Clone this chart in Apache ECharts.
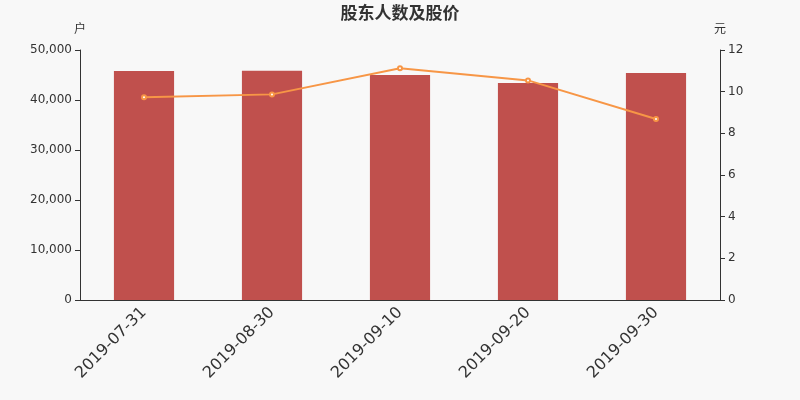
<!DOCTYPE html>
<html lang="zh">
<head>
    <meta charset="UTF-8">
    <title>股东人数及股价</title>
    <script src="https://cdn.jsdelivr.net/npm/echarts@6/dist/echarts.min.js"></script>
    <style>
        html, body { margin: 0; padding: 0; background: #f8f8f8; }
        #main { width: 800px; height: 400px; }
    </style>
</head>
<body>
<div id="main"></div>
<script>
    // 日期
    var dates = ['2019-07-31', '2019-08-30', '2019-09-10', '2019-09-20', '2019-09-30'];
    // 股东人数(户)
    var holders = [45800, 45850, 45000, 43400, 45400];
    // 股价(元)
    var prices = [9.73, 9.87, 11.12, 10.54, 8.69];

    var chart = echarts.init(document.getElementById('main'));
    var font = '"DejaVu Sans", "Noto Sans CJK SC", sans-serif';
    var option = {
        backgroundColor: '#f8f8f8',
        textStyle: { fontFamily: font },
        title: {
            text: '股东人数及股价',
            left: 'center',
            top: 1,
            textStyle: { fontSize: 17, fontWeight: 'bold', color: '#333', fontFamily: font }
        },
        grid: { left: 80, right: 80, top: 50, bottom: 100 },
        xAxis: [{
            type: 'category',
            data: dates,
            axisLine: { lineStyle: { color: '#333' } },
            axisTick: { lineStyle: { color: '#333' } },
            axisLabel: { rotate: 45, fontSize: 16, color: '#333', margin: 10, fontFamily: font }
        }],
        yAxis: [{
            type: 'value',
            name: '户',
            min: 0,
            max: 50000,
            interval: 10000,
            nameGap: 14,
            nameTextStyle: { color: '#333', fontSize: 12, fontFamily: font },
            axisLine: { show: true, lineStyle: { color: '#333' } },
            axisTick: { show: true },
            axisLabel: { color: '#333', fontSize: 12, fontFamily: font },
            splitLine: { show: false }
        }, {
            type: 'value',
            name: '元',
            min: 0,
            max: 12,
            interval: 2,
            nameGap: 14,
            nameTextStyle: { color: '#333', fontSize: 12, fontFamily: font },
            axisLine: { show: true, lineStyle: { color: '#333' } },
            axisTick: { show: true },
            axisLabel: { color: '#333', fontSize: 12, fontFamily: font },
            splitLine: { show: false }
        }],
        series: [{
            name: '股东人数',
            type: 'bar',
            barWidth: '47%',
            data: holders,
            itemStyle: { color: '#c0504d' }
        }, {
            name: '股价',
            type: 'line',
            yAxisIndex: 1,
            data: prices,
            symbol: 'emptyCircle',
            symbolSize: 4,
            lineStyle: { color: '#f79646', width: 2 },
            itemStyle: { color: '#f79646' }
        }]
    };
    chart.setOption(option);
</script>
</body>
</html>
